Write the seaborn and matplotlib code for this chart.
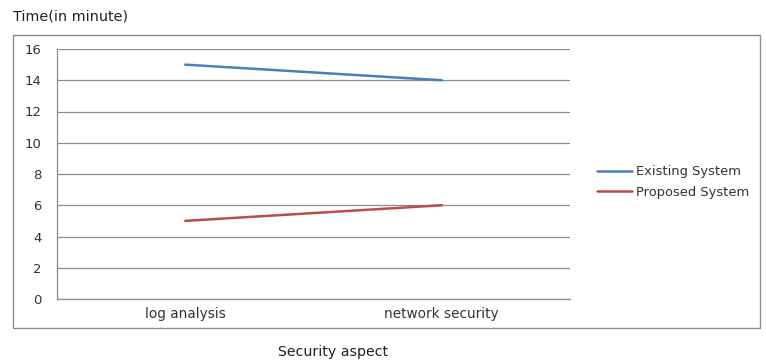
import matplotlib
matplotlib.use("Agg")
import matplotlib.pyplot as plt
import seaborn as sns
import pandas as pd
from matplotlib.patches import Rectangle
from matplotlib.ticker import FixedLocator

categories = ["log analysis", "network security"]
existing = [15, 14]
proposed = [5, 6]
series_names = ["Existing System", "Proposed System"]
yticks = [0, 2, 4, 6, 8, 10, 12, 14, 16]

df = pd.DataFrame({
    "aspect": categories * 2,
    "time": existing + proposed,
    "system": [series_names[0]] * 2 + [series_names[1]] * 2,
})

sns.set_style("white")
plt.rcParams["font.family"] = ["DejaVu Sans"]

fig = plt.figure(figsize=(7.66, 3.62), dpi=100)
W, H = 766, 362
ax = fig.add_axes([57 / W, 1 - 299 / H, (570 - 57) / W, (299 - 49) / H])

palette = {series_names[0]: "#4a7ebb", series_names[1]: "#be4b48"}
sns.lineplot(data=df, x="aspect", y="time", hue="system", palette=palette,
             linewidth=1.8, ax=ax, sort=False)

ax.set_xlim(-0.5, 1.5)
ax.set_ylim(0, 16)
ax.set_yticks(yticks)
ax.yaxis.grid(True, color="#8c8c8c", linewidth=0.9)
ax.set_axisbelow(True)
for s in ["top", "right"]:
    ax.spines[s].set_visible(False)
for s in ["left", "bottom"]:
    ax.spines[s].set_color("#8c8c8c")
    ax.spines[s].set_linewidth(0.9)

txt = "#333333"
ax.set_xticks([0, 1])
ax.set_xticklabels(categories)
ax.xaxis.set_minor_locator(FixedLocator([-0.5, 0.5, 1.5]))
ax.tick_params(axis="x", which="major", length=0, pad=6, labelsize=9.8, labelcolor=txt)
ax.tick_params(axis="x", which="minor", length=3, color="#8c8c8c", direction="out")
ax.tick_params(axis="y", length=4, color="#8c8c8c", direction="out", pad=7, labelsize=9.5, labelcolor=txt)
ax.set_xlabel("")
ax.set_ylabel("")

leg = ax.legend(loc="center left", bbox_to_anchor=(597 / W, 1 - 182 / H),
                bbox_transform=fig.transFigure, frameon=False, fontsize=9.4,
                handlelength=2.7, handletextpad=0.3, labelspacing=0.6,
                borderaxespad=0, borderpad=0)
for t in leg.get_texts():
    t.set_color(txt)

fig.patches.append(Rectangle((13 / W, 1 - 328 / H), (760 - 13) / W, (328 - 35) / H,
                             transform=fig.transFigure, fill=False,
                             edgecolor="#8c8c8c", linewidth=1.0))

fig.text(13 / W, 1 - 16 / H, "Time(in minute)", fontsize=10.4, color="#222222",
         ha="left", va="center")
fig.text(333 / W, 1 - 352 / H, "Security aspect", fontsize=10.2, color="#222222",
         ha="center", va="center")

fig.savefig("out.png", dpi=100)
